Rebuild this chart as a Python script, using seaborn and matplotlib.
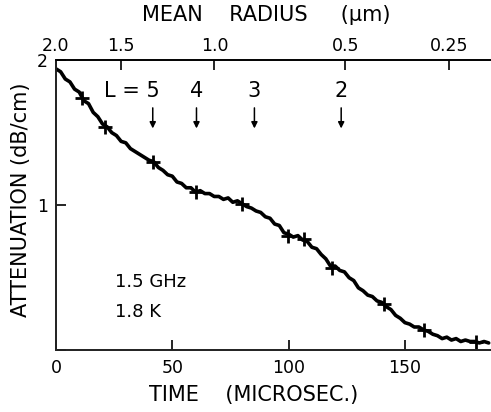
import numpy as np
import pandas as pd
import matplotlib
matplotlib.use("Agg")
import matplotlib.pyplot as plt
import seaborn as sns

# ---- data ----
time_us = [0, 2, 4, 6, 8, 10, 12, 14, 16, 18, 20, 22, 24, 26, 28, 30, 32, 34, 36, 38,
           40, 42, 44, 46, 48, 50, 52, 54, 56, 58, 60, 62, 64, 66, 68, 70, 72, 74, 76, 78,
           80, 82, 84, 86, 88, 90, 92, 94, 96, 98, 100, 102, 104, 106, 108, 110, 112, 114,
           116, 118, 120, 122, 124, 126, 128, 130, 132, 134, 136, 138, 140, 142, 144, 146,
           148, 150, 152, 154, 156, 158, 160, 162, 164, 166, 168, 170, 172, 174, 176, 178,
           180, 182, 184, 186]
attenuation = [1.94, 1.92, 1.87, 1.85, 1.80, 1.78, 1.72, 1.70, 1.64, 1.61, 1.56, 1.54,
               1.50, 1.48, 1.44, 1.43, 1.39, 1.37, 1.35, 1.33, 1.31, 1.30, 1.26, 1.24,
               1.21, 1.20, 1.16, 1.15, 1.12, 1.12, 1.09, 1.10, 1.08, 1.08, 1.06, 1.06,
               1.04, 1.05, 1.02, 1.03, 1.01, 0.99, 0.98, 0.96, 0.95, 0.92, 0.91, 0.87,
               0.86, 0.81, 0.80, 0.78, 0.79, 0.76, 0.75, 0.71, 0.70, 0.66, 0.63, 0.58,
               0.58, 0.55, 0.54, 0.50, 0.48, 0.43, 0.41, 0.38, 0.37, 0.34, 0.33, 0.30,
               0.28, 0.24, 0.22, 0.19, 0.18, 0.16, 0.16, 0.14, 0.13, 0.11, 0.10, 0.08,
               0.09, 0.07, 0.08, 0.06, 0.07, 0.06, 0.06, 0.05, 0.06, 0.05]

cross_time = [11, 21, 41.6, 60.4, 80, 99.6, 106.7, 118.7, 141, 158, 180.4]
cross_att = [1.74, 1.54, 1.30, 1.09, 1.01, 0.79, 0.77, 0.57, 0.32, 0.14, 0.055]

radius_time = [0, 27.9, 68.1, 124.3, 168.9]
radius_labels = ["2.0", "1.5", "1.0", "0.5", "0.25"]

mode_time = [41.6, 60.4, 85.3, 122.6]
mode_labels = ["L = 5", "4", "3", "2"]

x_ticks = [0, 50, 100, 150]
y_ticks = [1, 2]

sns.set_theme(style="ticks")
plt.rcParams["font.family"] = ["DejaVu Sans"]

fig = plt.figure(figsize=(4.91, 4.12), dpi=100)
ax = fig.add_axes([0.114, 0.150, 0.886, 0.704])

df = pd.DataFrame({"t": time_us, "a": attenuation})
sns.lineplot(data=df, x="t", y="a", ax=ax, color="black", lw=2.6)
dfc = pd.DataFrame({"t": cross_time, "a": cross_att})
sns.scatterplot(data=dfc, x="t", y="a", ax=ax, marker="+", s=100, color="black",
                linewidth=2.0)

ax.set_xlim(0, 187)
ax.set_ylim(0, 2.0)
ax.set_xticks(x_ticks)
ax.set_xticklabels([str(v) for v in x_ticks], fontsize=12.5)
ax.set_yticks([0] + y_ticks)
ax.set_yticklabels([""] + [str(v) for v in y_ticks], fontsize=12.5)
ax.tick_params(axis="both", direction="in", length=7, width=1.2, color="black",
               labelcolor="black", pad=6)
ax.spines["right"].set_visible(False)
for s in ["left", "bottom", "top"]:
    ax.spines[s].set_color("black")
    ax.spines[s].set_linewidth(1.2)
ax.set_xlabel("TIME    (MICROSEC.)", fontsize=15, color="black")
ax.xaxis.set_label_coords(0.455, -0.12)
ax.set_ylabel("ATTENUATION (dB/cm)", fontsize=15, color="black")
ax.yaxis.set_label_coords(-0.058, 0.52)

ax2 = ax.twiny()
ax2.set_xlim(ax.get_xlim())
ax2.set_xticks(radius_time)
ax2.set_xticklabels(radius_labels, fontsize=12.5)
ax2.tick_params(axis="x", direction="in", length=7, width=1.2, color="black",
                labelcolor="black", pad=4)
ax2.spines["right"].set_visible(False)
ax2.spines["top"].set_color("black")
ax2.spines["top"].set_linewidth(1.2)
ax2.set_xlabel("MEAN    RADIUS     (\u03bcm)", fontsize=15, color="black")
ax2.xaxis.set_label_coords(0.483, 1.135)

for t, lab in zip(mode_time, mode_labels):
    ax.annotate("", xy=(t, 1.51), xytext=(t, 1.69),
                arrowprops=dict(arrowstyle="-|>", color="black", lw=1.1,
                                mutation_scale=9))
    ha = "right" if lab.startswith("L") else "center"
    xt = t + 3 if lab.startswith("L") else t
    ax.text(xt, 1.79, lab, fontsize=15, ha=ha, va="center", color="black")

ax.text(25.5, 0.47, "1.5 GHz", fontsize=13, ha="left", va="center", color="black")
ax.text(25.5, 0.26, "1.8 K", fontsize=13, ha="left", va="center", color="black")

fig.savefig("out.png", dpi=100)
